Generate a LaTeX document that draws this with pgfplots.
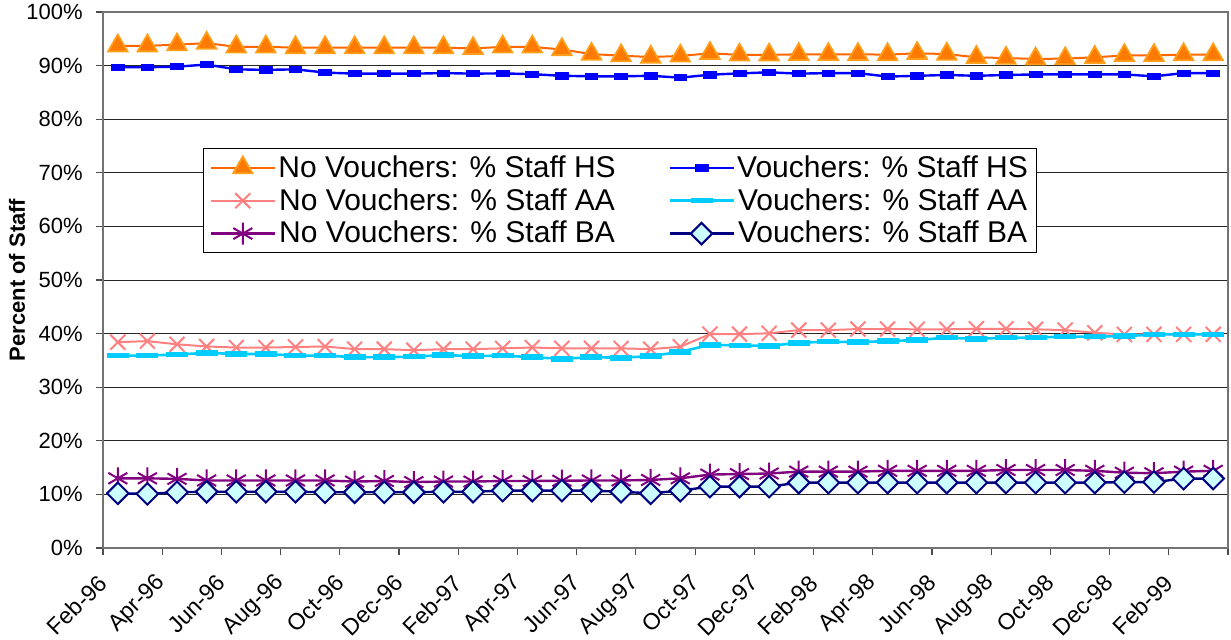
\documentclass[border=0pt]{standalone}
\usepackage{pgfplots}
\usepackage{pgfplotstable}
\pgfplotsset{compat=1.18}
\usepackage{fontspec}
\setmainfont{Liberation Sans}
\definecolor{nvhs}{HTML}{FF6600}
\definecolor{nvhsfill}{HTML}{FF7A00}
\definecolor{nvhsedge}{HTML}{FF9E1A}
\definecolor{vhs}{HTML}{0000FF}
\definecolor{nvaa}{HTML}{FF8080}
\definecolor{vaa}{HTML}{00CCFF}
\definecolor{nvba}{HTML}{800080}
\definecolor{vba}{HTML}{000080}
\definecolor{vbafill}{HTML}{CCFFFF}
\pgfplotstableread{
i nvhs vhs nvaa vaa nvba vba
0 93.7 89.7 38.4 35.9 13.0 10.2
1 93.7 89.7 38.6 35.9 13.0 10.1
2 93.9 89.8 38.0 36.1 12.9 10.4
3 94.2 90.2 37.6 36.4 12.6 10.5
4 93.5 89.3 37.4 36.2 12.6 10.5
5 93.5 89.2 37.4 36.2 12.6 10.5
6 93.35 89.3 37.5 35.9 12.6 10.5
7 93.35 88.7 37.6 35.9 12.6 10.4
8 93.35 88.5 37.1 35.6 12.4 10.4
9 93.35 88.5 37.1 35.6 12.5 10.4
10 93.35 88.5 36.9 35.7 12.3 10.4
11 93.35 88.6 37.1 36.0 12.4 10.5
12 93.2 88.5 37.1 35.8 12.4 10.5
13 93.5 88.55 37.25 35.9 12.5 10.7
14 93.5 88.4 37.4 35.6 12.5 10.7
15 93.0 88.1 37.25 35.3 12.55 10.7
16 92.15 88.0 37.25 35.6 12.6 10.7
17 91.85 88.0 37.25 35.5 12.6 10.5
18 91.6 88.1 37.1 35.8 12.7 10.2
19 91.8 87.75 37.55 36.6 13.0 10.7
20 92.3 88.3 39.9 37.9 13.7 11.45
21 92.0 88.55 39.9 37.8 13.8 11.45
22 92.0 88.75 40.05 37.7 13.9 11.45
23 92.1 88.5 40.65 38.3 14.25 12.2
24 92.1 88.6 40.65 38.5 14.25 12.2
25 92.1 88.6 40.85 38.4 14.25 12.2
26 92.05 87.95 40.85 38.6 14.4 12.2
27 92.3 88.1 40.8 38.8 14.4 12.2
28 92.15 88.25 40.8 39.25 14.4 12.2
29 91.55 88.1 40.9 39.0 14.4 12.2
30 91.4 88.25 40.9 39.25 14.55 12.2
31 91.25 88.35 40.8 39.25 14.55 12.2
32 91.3 88.35 40.65 39.45 14.55 12.2
33 91.55 88.35 40.15 39.45 14.4 12.2
34 91.9 88.35 39.85 39.5 14.05 12.3
35 91.9 88.0 39.85 39.85 13.95 12.3
36 92.05 88.6 39.85 39.85 14.25 12.95
37 92.05 88.6 39.85 39.85 14.4 12.95
}\datatable
\begin{document}
\begin{tikzpicture}
\useasboundingbox (-51.5pt,-45.5pt) rectangle (564pt,274pt);
\begin{axis}[
  at={(0,0)}, anchor=south west,
  width=562.5pt, height=268pt, scale only axis,
  xmin=-0.5, xmax=37.5, ymin=0, ymax=100,
  xtick={-0.5,1.5,...,37.5},
  xticklabels={Feb-96,Apr-96,Jun-96,Aug-96,Oct-96,Dec-96,Feb-97,Apr-97,Jun-97,Aug-97,Oct-97,Dec-97,Feb-98,Apr-98,Jun-98,Aug-98,Oct-98,Dec-98,Feb-99,{}},
  ytick={0,10,20,30,40,50,60,70,80,90,100},
  yticklabels={0\%,10\%,20\%,30\%,40\%,50\%,60\%,70\%,80\%,90\%,100\%},
  xtick pos=bottom, ytick pos=left,
  tick align=outside, major tick length=3.5pt,
  tick style={black!70, line width=0.6pt},
  ymajorgrids, grid style={black!85, line width=0.5pt},
  axis line style={black!55, line width=0.9pt},
  xticklabel style={rotate=45, anchor=east, inner sep=0pt, font=\fontsize{11.5}{13}\selectfont},
  xticklabel shift=12pt,
  yticklabel style={anchor=east, inner sep=0pt, xshift=-6.5pt, font=\fontsize{11}{13}\selectfont},
  ylabel={Percent of Staff},
  ylabel style={font=\bfseries\fontsize{11}{13}\selectfont, at={(axis description cs:-0.0764,0.5)}, anchor=center},
  legend columns=2,
  legend image code/.code={\draw[mark repeat=2,mark phase=2,#1] plot coordinates {(0pt,0pt) (16pt,0pt) (32pt,0pt)};},
  legend style={at={(axis description cs:0.0889,0.746)}, anchor=north west, draw=black, line width=0.6pt, fill=white,
    font=\fontsize{15}{17}\selectfont, inner xsep=3pt, inner ysep=2.5pt, row sep=2.5pt,
    nodes={inner xsep=1.2pt, inner ysep=0.8pt},
    /tikz/every even column/.append style={column sep=25pt}},
  clip=false,
]
\addplot[nvhs, line width=1pt, mark=triangle*, mark size=5.6pt, mark options={fill=nvhsfill, draw=nvhsedge, line width=0.9pt}] table[x=i,y=nvhs]{\datatable};
\addlegendentry{No Vouchers: \% Staff HS}
\addplot[vhs, line width=1.2pt, mark=square*, mark size=1.6pt, mark options={xscale=2, fill=vhs, draw=vhs, line width=0.4pt}] table[x=i,y=vhs]{\datatable};
\addlegendentry{Vouchers: \% Staff HS}
\addplot[nvaa, line width=1pt, mark=x, mark size=5.3pt, mark options={line width=1pt}] table[x=i,y=nvaa]{\datatable};
\addlegendentry{No Vouchers: \% Staff AA}
\addplot[vaa, line width=1.3pt, mark=-, mark size=5.5pt, mark options={line width=2.8pt}] table[x=i,y=vaa]{\datatable};
\addlegendentry{Vouchers: \% Staff AA}
\addplot[nvba, line width=1.2pt, mark=asterisk, mark size=5.5pt, mark options={line width=1pt}] table[x=i,y=nvba]{\datatable};
\addlegendentry{No Vouchers: \% Staff BA}
\addplot[vba, line width=1.2pt, mark=square*, mark size=3.8pt, mark options={rotate=45, fill=vbafill, draw=vba, line width=1pt}] table[x=i,y=vba]{\datatable};
\addlegendentry{Vouchers: \% Staff BA}
\end{axis}
\end{tikzpicture}
\end{document}
